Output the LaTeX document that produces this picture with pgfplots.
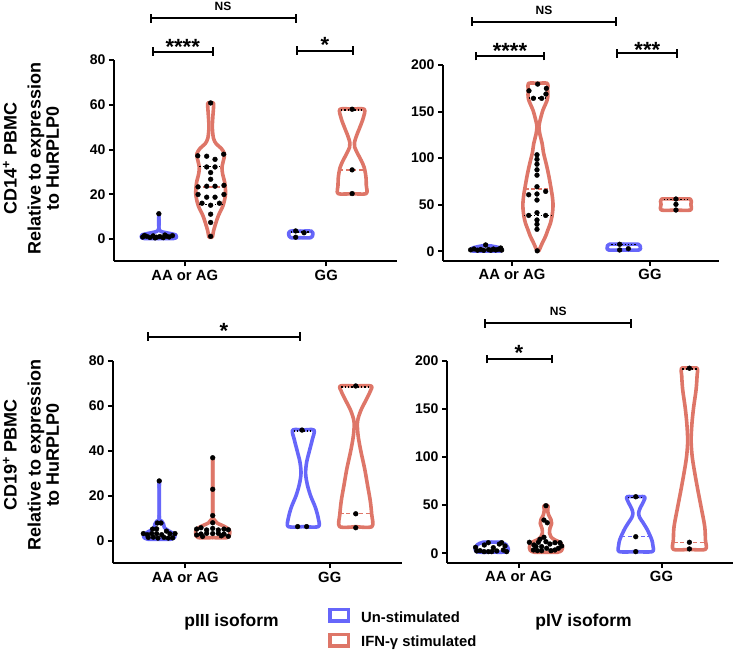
\documentclass[border=0pt]{standalone}
\usepackage{fontspec}
\setmainfont{Liberation Sans}
\usepackage{pgfplots}
\usepackage{pgfplotstable}
\pgfplotsset{compat=1.18}
\definecolor{blueV}{RGB}{102,102,250}
\definecolor{redV}{RGB}{222,118,104}

\pgfplotsset{
  vio/.style={
    scale only axis,
    anchor=south west,
    axis x line*=bottom,
    axis y line*=left,
    xmin=-0.5, xmax=1.5, ymin=-10,
    xtick={0,1}, xticklabels={AA or AG,GG},
    axis line style={line width=2pt, black},
    tick style={line width=2pt, black},
    major tick length=5pt,
    tick align=outside,
    yticklabel style={font=\fontsize{14}{15}\selectfont\bfseries},
    xticklabel style={font=\fontsize{14.8}{16}\selectfont\bfseries},
    /pgf/number format/assume math mode=true,
    clip=false,
  },
  vline/.style={line width=3.6pt, line join=round, line cap=round, smooth, tension=0.5, no markers},
  dot/.style={only marks, mark=*, mark size=2.4pt, black, mark options={fill=black, draw=black}},
  med/.style={line width=1.3pt, dash pattern=on 4pt off 2.5pt, no markers},
  qrt/.style={black, line width=1.3pt, dash pattern=on 1.3pt off 2pt, no markers},
}
\newcommand{\violin}[3]{%
  \addplot[#3, vline] table[x expr=#2+\thisrow{w}, y=y] {#1};
  \addplot[#3, vline] table[x expr=#2-\thisrow{w}, y=y] {#1};
}

% ---------- Panel A: pIII, CD14 ----------
\pgfplotstableread[row sep=\\]{y w\\ 0.2 0\\ 0.2 0.10\\ 0.8 0.125\\ 1.8 0.12\\ 2.6 0.07\\ 3.4 0.015\\ 5 0\\ 11.2 0\\}\vAblueAA
\pgfplotstableread[row sep=\\]{y w\\ 0.8 0\\ 0.8 0.012\\ 3.5 0.02\\ 7 0.036\\ 10.5 0.055\\ 15 0.088\\ 20 0.105\\ 25 0.1\\ 29 0.085\\ 32 0.08\\ 35 0.09\\ 38 0.098\\ 40.5 0.075\\ 42.5 0.04\\ 45 0.02\\ 50 0.012\\ 55 0.016\\ 58.5 0.02\\ 60.8 0.02\\ 60.8 0\\}\vAredAA
\pgfplotstableread[row sep=\\]{y w\\ 0.6 0\\ 0.6 0.07\\ 2 0.085\\ 3.5 0.075\\ 3.5 0\\}\vAblueGG
\pgfplotstableread[row sep=\\]{y w\\ 20.3 0\\ 20.3 0.099\\ 24 0.1\\ 28 0.097\\ 32 0.085\\ 35 0.065\\ 38 0.04\\ 41 0.018\\ 43 0.016\\ 46 0.03\\ 50 0.055\\ 54 0.078\\ 58 0.086\\ 58 0\\}\vAredGG
% ---------- Panel B: pIV, CD14 ----------
\pgfplotstableread[row sep=\\]{y w\\ 0.3 0\\ 0.3 0.1\\ 2 0.11\\ 3.8 0.095\\ 5.8 0.03\\ 5.8 0\\}\vBblueAA
\pgfplotstableread[row sep=\\]{y w\\ 0.6 0\\ 0.6 0.007\\ 5 0.02\\ 10.3 0.036\\ 16 0.055\\ 22.9 0.072\\ 30 0.09\\ 37 0.101\\ 45 0.108\\ 51.5 0.109\\ 58 0.105\\ 62.2 0.101\\ 70 0.092\\ 80 0.08\\ 90 0.066\\ 98 0.053\\ 106 0.04\\ 116 0.03\\ 125 0.015\\ 133.7 0.007\\ 142 0.018\\ 151.5 0.036\\ 158 0.055\\ 163 0.068\\ 168 0.072\\ 174 0.07\\ 180.3 0.069\\ 180.3 0\\}\vBredAA
\pgfplotstableread[row sep=\\]{y w\\ 1.4 0\\ 1.4 0.11\\ 4 0.12\\ 7.5 0.105\\ 7.5 0\\}\vBblueGG
\pgfplotstableread[row sep=\\]{y w\\ 44.3 0\\ 44.3 0.105\\ 50.4 0.108\\ 56 0.105\\ 56 0\\}\vBredGG
% ---------- Panel C: pIII, CD19 ----------
\pgfplotstableread[row sep=\\]{y w\\ 0.8 0\\ 0.8 0.08\\ 1.8 0.108\\ 3.2 0.1\\ 4.5 0.065\\ 6 0.035\\ 7.5 0.03\\ 9 0.015\\ 10.5 0\\ 26.7 0\\}\vCblueAA
\pgfplotstableread[row sep=\\]{y w\\ 1.5 0\\ 1.5 0.1\\ 3 0.117\\ 5 0.115\\ 6.5 0.08\\ 8 0.03\\ 9.5 0.01\\ 12 0\\ 37 0\\}\vCredAA
\pgfplotstableread[row sep=\\]{y w\\ 6.4 0\\ 6.4 0.104\\ 10 0.104\\ 15 0.083\\ 20 0.051\\ 25 0.028\\ 30 0.016\\ 35 0.023\\ 40 0.042\\ 45 0.062\\ 49.3 0.074\\ 49.3 0\\}\vCblueGG
\pgfplotstableread[row sep=\\]{y w\\ 6.4 0\\ 6.4 0.112\\ 12 0.11\\ 18 0.1\\ 25 0.081\\ 32 0.062\\ 40 0.035\\ 47 0.016\\ 53 0.012\\ 58 0.035\\ 63 0.074\\ 66.5 0.1\\ 68.9 0.106\\ 68.9 0\\}\vCredGG
% ---------- Panel D: pIV, CD19 ----------
\pgfplotstableread[row sep=\\]{y w\\ 1.2 0\\ 1.2 0.09\\ 3 0.115\\ 6 0.112\\ 9 0.1\\ 11.5 0.06\\ 11.5 0\\}\vDblueAA
\pgfplotstableread[row sep=\\]{y w\\ 1 0\\ 1 0.08\\ 3 0.11\\ 6 0.117\\ 9 0.11\\ 12 0.09\\ 14 0.06\\ 17 0.035\\ 21 0.025\\ 26 0.028\\ 31 0.04\\ 35 0.035\\ 40 0.018\\ 45 0.012\\ 49.4 0.015\\ 49.4 0\\}\vDredAA
\pgfplotstableread[row sep=\\]{y w\\ 1.7 0\\ 1.7 0.115\\ 8 0.12\\ 14 0.112\\ 20 0.095\\ 26 0.075\\ 32 0.05\\ 37 0.028\\ 41.5 0.02\\ 46 0.028\\ 51 0.045\\ 55 0.058\\ 58.7 0.062\\ 58.7 0\\}\vDblueGG
\pgfplotstableread[row sep=\\]{y w\\ 4.1 0\\ 4.1 0.112\\ 14 0.112\\ 28 0.107\\ 48 0.082\\ 65 0.06\\ 83 0.038\\ 100 0.02\\ 117 0.012\\ 135 0.018\\ 152 0.03\\ 170 0.047\\ 185 0.054\\ 192.2 0.055\\ 192.2 0\\}\vDredGG

\newcommand{\brk}[3]{\draw[line width=2.1pt] (#1,#3) -- (#2,#3) (#1,#3-4.3) -- (#1,#3+4.3) (#2,#3-4.3) -- (#2,#3+4.3);}
\newcommand{\stars}[3]{\node[font=\fontsize{22}{22}\selectfont\bfseries, inner sep=0pt] at (#1,#2-4.6) {#3};}
\newcommand{\ns}[2]{\node[font=\fontsize{12}{13}\selectfont\bfseries, inner sep=0pt] at (#1,#2) {NS};}

\begin{document}
\begin{tikzpicture}
\path[use as bounding box] (0pt,0pt) rectangle (736pt,653pt);

% ================= Panel A =================
\begin{axis}[vio, at={(114pt,391.6pt)}, width=283pt, height=201.4pt,
  ymax=80, ytick={0,20,40,60,80}]
\violin{\vAblueAA}{-0.183}{blueV}
\violin{\vAredAA}{0.183}{redV}
\violin{\vAblueGG}{0.82}{blueV}
\violin{\vAredGG}{1.183}{redV}
\addplot[med, redV] coordinates {(0.083,23.3) (0.283,23.3)};
\addplot[qrt] coordinates {(0.103,32.3) (0.263,32.3)};
\addplot[qrt] coordinates {(0.098,15.5) (0.268,15.5)};
\addplot[med, redV] coordinates {(1.093,30.9) (1.273,30.9)};
\addplot[qrt] coordinates {(1.105,57.6) (1.265,57.6)};
\addplot[qrt] coordinates {(0.75,3.2) (0.89,3.2)};
\addplot[dot] coordinates {(-0.297,0.9) (-0.269,1.2) (-0.246,0.7) (-0.223,1.4) (-0.199,0.8) (-0.176,1.1) (-0.152,0.6) (-0.129,1.3) (-0.110,0.9) (-0.087,1.5) (-0.285,1.6) (-0.21,0.5) (-0.14,1.8) (-0.183,11.3)};
\addplot[dot] coordinates {(0.183,60.8) (0.092,37.2) (0.155,37.0) (0.275,37.9) (0.214,35.6) (0.155,32.2) (0.214,32.2) (0.183,29.7) (0.183,26.7) (0.094,23.3) (0.155,23.6) (0.214,23.6) (0.277,24.0) (0.094,19.9) (0.277,19.9) (0.155,18.7) (0.214,18.7) (0.122,16.0) (0.183,15.1) (0.245,16) (0.183,11.1) (0.183,7.4) (0.183,1.2)};
\addplot[dot] coordinates {(0.784,3.6) (0.843,2.8) (0.784,0.8)};
\addplot[dot] coordinates {(1.183,58) (1.183,30.9) (1.183,20.3)};
\end{axis}

% ================= Panel B =================
\begin{axis}[vio, at={(443pt,392.4pt)}, width=276pt, height=195.6pt,
  ymax=200, ytick={0,50,100,150,200}]
\violin{\vBblueAA}{-0.185}{blueV}
\violin{\vBredAA}{0.188}{redV}
\violin{\vBblueGG}{0.81}{blueV}
\violin{\vBredGG}{1.188}{redV}
\addplot[med, redV] coordinates {(0.093,66.8) (0.283,66.8)};
\addplot[qrt] coordinates {(0.088,38.5) (0.288,38.5)};
\addplot[qrt] coordinates {(0.12,164.5) (0.256,164.5)};
\addplot[med, white] coordinates {(1.1,50.4) (1.276,50.4)};
\addplot[qrt] coordinates {(1.1,55.5) (1.276,55.5)};
\addplot[qrt] coordinates {(0.72,7) (0.9,7)};
\addplot[dot] coordinates {(-0.3,1.5) (-0.275,2.5) (-0.25,1.2) (-0.227,2.0) (-0.205,1.0) (-0.191,6.8) (-0.17,1.8) (-0.154,1.1) (-0.135,2.4) (-0.118,1.4) (-0.1,2.1) (-0.082,3.5) (-0.075,1.3)};
\addplot[dot] coordinates {(0.186,179.5) (0.123,172.3) (0.249,174.9) (0.246,168.8) (0.155,164.2) (0.215,164.2) (0.181,103.6) (0.181,98.7) (0.181,93.5) (0.181,87.5) (0.181,81.7) (0.181,69.3) (0.121,60.7) (0.181,61.5) (0.244,64.3) (0.181,55) (0.181,41.4) (0.121,38.5) (0.244,38.5) (0.181,33.6) (0.181,29) (0.181,23.6) (0.183,0.5)};
\addplot[dot] coordinates {(0.78,7.5) (0.843,2.8) (0.78,1.4)};
\addplot[dot] coordinates {(1.188,56.1) (1.188,50.4) (1.188,44.3)};
\end{axis}

% ================= Panel C =================
\begin{axis}[vio, at={(113pt,89.5pt)}, width=289pt, height=202.5pt,
  ymax=80, ytick={0,20,40,60,80}]
\violin{\vCblueAA}{-0.18}{blueV}
\violin{\vCredAA}{0.19}{redV}
\violin{\vCblueGG}{0.817}{blueV}
\violin{\vCredGG}{1.18}{redV}
\addplot[qrt] coordinates {(0.75,48.9) (0.885,48.9)};
\addplot[med, redV] coordinates {(1.07,12.1) (1.29,12.1)};
\addplot[qrt] coordinates {(1.08,68.5) (1.28,68.5)};
\addplot[dot] coordinates {(-0.18,26.7) (-0.193,8.0) (-0.168,8.0) (-0.226,5.3) (-0.198,5.4) (-0.13,4.4) (-0.29,3.3) (-0.263,2.8) (-0.232,3.3) (-0.198,3.3) (-0.163,2.8) (-0.106,3.2) (-0.071,3.3) (-0.256,1.6) (-0.221,1.7) (-0.189,1.3) (-0.147,1.6) (-0.117,1.3) (-0.087,1.4)};
\addplot[dot] coordinates {(0.19,37) (0.19,23) (0.19,11.3) (0.19,8.1) (0.079,5.3) (0.109,5.9) (0.148,4.9) (0.19,5.6) (0.229,4.9) (0.268,5.3) (0.298,5.0) (0.079,2.7) (0.109,3.1) (0.148,3.4) (0.19,3.3) (0.229,3.4) (0.268,3.1) (0.298,2.1) (0.12,2.0) (0.25,2.3)};
\addplot[dot] coordinates {(0.808,49.3) (0.778,6.4) (0.84,6.4)};
\addplot[dot] coordinates {(1.18,68.9) (1.18,12.1) (1.18,5.9)};
\end{axis}

% ================= Panel D =================
\begin{axis}[vio, at={(447pt,90.1pt)}, width=286pt, height=202.2pt,
  ymax=200, ytick={0,50,100,150,200}]
\violin{\vDblueAA}{-0.187}{blueV}
\violin{\vDredAA}{0.192}{redV}
\violin{\vDblueGG}{0.82}{blueV}
\violin{\vDredGG}{1.195}{redV}
\addplot[med, blueV] coordinates {(0.72,17.2) (0.92,17.2)};
\addplot[qrt] coordinates {(0.765,58.2) (0.875,58.2)};
\addplot[med, redV] coordinates {(1.085,11.4) (1.305,11.4)};
\addplot[qrt] coordinates {(1.145,191.5) (1.245,191.5)};
\addplot[dot] coordinates {(-0.3,6.2) (-0.292,2.4) (-0.269,2.7) (-0.239,8.6) (-0.241,1.7) (-0.211,11) (-0.211,1.7) (-0.187,1.7) (-0.176,5.8) (-0.152,2.4) (-0.134,9.6) (-0.118,11) (-0.106,3.4) (-0.094,7.6) (-0.083,1.7)};
\addplot[dot] coordinates {(0.192,49.4) (0.178,34.5) (0.201,31.7) (0.15,14.5) (0.178,16.6) (0.076,11.4) (0.108,8.6) (0.139,11.4) (0.162,6.9) (0.192,12) (0.22,9.6) (0.255,11) (0.29,11) (0.302,7.6) (0.104,3.4) (0.132,2.7) (0.162,2.7) (0.197,5.2) (0.227,2.7) (0.255,3.4) (0.279,5.2) (0.122,6.9)};
\addplot[dot] coordinates {(0.82,58.7) (0.82,17.2) (0.82,1.7)};
\addplot[dot] coordinates {(1.195,192.2) (1.195,11.4) (1.195,4.5)};
\end{axis}

% ================= Annotations =================
\begin{scope}[x=1pt, y=1pt]
% brackets
\brk{150.7}{295.7}{634.7} \ns{223}{646.3}
\brk{152.7}{213.3}{601.3} \stars{182.7}{610.7}{****}
\brk{297.3}{352.7}{602.3} \stars{325}{613}{*}
\brk{471.7}{615.7}{631.3} \ns{544}{643}
\brk{476}{544}{597} \stars{510}{606.3}{****}
\brk{617.3}{677.3}{599.7} \stars{647.3}{608}{***}
\brk{147.7}{300}{316.3} \stars{224}{326.3}{*}
\brk{485}{631}{329.7} \ns{558.3}{341.3}
\brk{486.7}{552.3}{294} \stars{519}{304.7}{*}
% y labels
\begin{scope}[every node/.style={rotate=90, anchor=base, inner sep=0pt, font=\fontsize{18}{19}\selectfont\bfseries}]
\node at (16.7,494.5) {CD14\textsuperscript{+} PBMC};
\node at (40.5,494.5) {Relative to expression};
\node at (58.8,494.5) {to HuRPLP0};
\node at (16.7,198) {CD19\textsuperscript{+} PBMC};
\node at (40.5,198) {Relative to expression};
\node at (58.8,198) {to HuRPLP0};
\end{scope}
% isoform labels
\node[anchor=base, inner sep=0pt, font=\fontsize{17.5}{18}\selectfont\bfseries] at (231.5,26) {pIII isoform};
\node[anchor=base, inner sep=0pt, font=\fontsize{17.5}{18}\selectfont\bfseries] at (583.5,26) {pIV isoform};
% legend
\draw[blueV, line width=3.5pt, fill=white] (329.75,31.75) rectangle (348.25,43.25);
\draw[redV, line width=3.5pt, fill=white] (329.75,6.75) rectangle (348.25,18.25);
\node[anchor=base west, inner sep=0pt, font=\fontsize{14.8}{16}\selectfont\bfseries] at (361,30) {Un-stimulated};
\node[anchor=base west, inner sep=0pt, font=\fontsize{14.8}{16}\selectfont\bfseries] at (361,6.5) {IFN-γ stimulated};
\end{scope}
\end{tikzpicture}
\end{document}
